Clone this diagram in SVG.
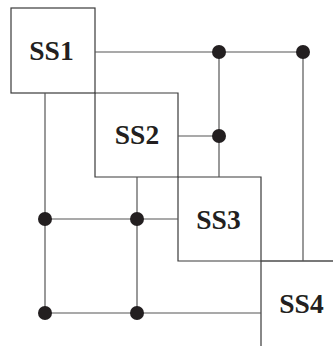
<svg xmlns="http://www.w3.org/2000/svg" width="333" height="346" viewBox="0 0 333 346">
  <style>
    .edge { fill: none; stroke: #3a3a3a; stroke-width: 1.2; }
    .wire { fill: none; stroke: #555555; stroke-width: 1.2; }
    .dot { fill: #231f20; }
    .label { font-family: 'Liberation Serif', serif; font-weight: 700; font-size: 27.5px; fill: #231f20; text-anchor: middle; }
  </style>
  <rect width="333" height="346" fill="#ffffff"/>

  <!-- subsystem blocks along the diagonal -->
  <g id="ss1">
    <rect class="edge" x="11" y="8" width="84" height="85"/>
    <text class="label" x="51.5" y="60">SS1</text>
  </g>
  <g id="ss2">
    <path class="edge" d="M95 93 H178 V177 H95 Z"/>
    <text class="label" x="137" y="144">SS2</text>
  </g>
  <g id="ss3">
    <path class="edge" d="M178 177 H261 V261 H178 Z"/>
    <text class="label" x="218.5" y="229">SS3</text>
  </g>
  <g id="ss4">
    <path class="edge" d="M261 261 H333 M261 261 V346"/>
    <text class="label" x="301.5" y="313">SS4</text>
  </g>

  <!-- coupling lines between blocks -->
  <g id="connectors">
    <path class="wire" d="M95 52 H303"/>
    <path class="wire" d="M219 52 V177"/>
    <path class="wire" d="M178 136 H219"/>
    <path class="wire" d="M303 52 V261"/>
    <path class="wire" d="M261 261 H333"/>
    <path class="wire" d="M45 93 V313"/>
    <path class="wire" d="M137 177 V313"/>
    <path class="wire" d="M45 219 H178"/>
    <path class="wire" d="M45 313 H261"/>
    <circle class="dot" cx="219" cy="52" r="7"/>
    <circle class="dot" cx="303" cy="52" r="7"/>
    <circle class="dot" cx="219" cy="136" r="7"/>
    <circle class="dot" cx="45" cy="219" r="7"/>
    <circle class="dot" cx="137" cy="219" r="7"/>
    <circle class="dot" cx="45" cy="313" r="7"/>
    <circle class="dot" cx="137" cy="313" r="7"/>
  </g>
</svg>
